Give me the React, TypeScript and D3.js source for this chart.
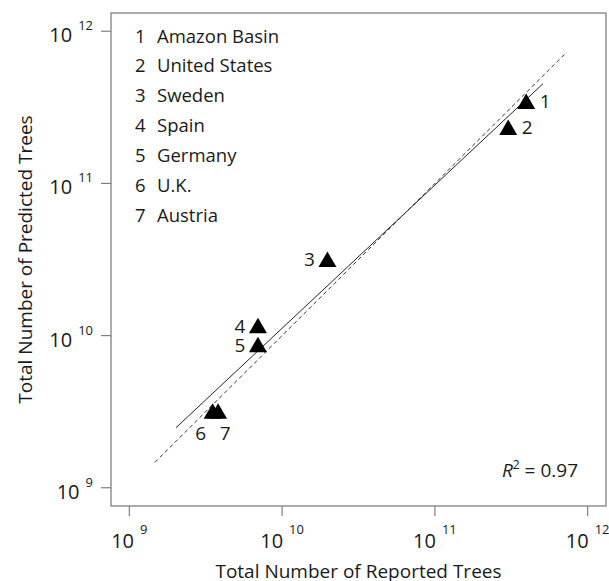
import * as d3 from "d3";
import { useEffect, useRef } from "react";

// reported vs predicted tree counts, by region
const REGIONS = ["Amazon Basin", "United States", "Sweden", "Spain", "Germany", "U.K.", "Austria"];
const REPORTED = [3.96e11, 3.02e11, 1.98e10, 6.95e9, 6.95e9, 3.51e9, 3.81e9];
const PREDICTED = [3.33e11, 2.25e11, 3.05e10, 1.12e10, 8.41e9, 3.07e9, 3.07e9];

const AXIS_LIMITS = [1e9, 1e12];
const TICKS = [1e9, 1e10, 1e11, 1e12];

// fitted regression line and the 1:1 line (end points)
const FIT_X = [2.02e9, 5.1e11];
const FIT_Y = [2.48e9, 4.52e11];
const ONE_TO_ONE = [1.47e9, 7.3e11];
const R_SQUARED = "0.97";

// where each point's number sits: r = right, l = left, bl / br = below
const LABEL_SIDE = ["r", "r", "l", "l", "l", "bl", "br"];

const FONT = "'Open Sans', sans-serif";
const INK = "#1a1a1a";
const FRAME = "#808080";

export default function App() {
  const ref = useRef<SVGSVGElement>(null);

  useEffect(() => {
    if (!ref.current) return;
    const svg = d3.select(ref.current);
    svg.selectAll("*").remove();

    const width = 609,
      height = 581;
    const box = { left: 111, right: 606, top: 13, bottom: 506 };

    // R style 4% padding on log axes
    const lo = Math.log10(AXIS_LIMITS[0]),
      hi = Math.log10(AXIS_LIMITS[1]);
    const pad = (hi - lo) * 0.04;
    const dom = [Math.pow(10, lo - pad), Math.pow(10, hi + pad)];

    const x = d3.scaleLog().domain(dom).range([box.left, box.right]);
    const y = d3.scaleLog().domain(dom).range([box.bottom, box.top]);

    svg.attr("width", width).attr("height", height);

    // frame
    svg
      .append("rect")
      .attr("x", box.left)
      .attr("y", box.top)
      .attr("width", box.right - box.left)
      .attr("height", box.bottom - box.top)
      .attr("fill", "none")
      .attr("stroke", FRAME)
      .attr("stroke-width", 1.3);

    // x ticks
    const xt = svg.append("g");
    xt.selectAll("line")
      .data(TICKS)
      .enter()
      .append("line")
      .attr("x1", (d) => x(d))
      .attr("x2", (d) => x(d))
      .attr("y1", box.bottom)
      .attr("y2", box.bottom + 10)
      .attr("stroke", FRAME)
      .attr("stroke-width", 1.2);
    const xl = xt
      .selectAll("text")
      .data(TICKS)
      .enter()
      .append("text")
      .attr("x", (d) => x(d))
      .attr("y", box.bottom + 42)
      .attr("text-anchor", "middle")
      .attr("font-family", FONT)
      .attr("font-size", 20)
      .attr("fill", INK);
    xl.append("tspan").text("10");
    xl.append("tspan")
      .attr("dx", 6)
      .attr("dy", -14)
      .attr("font-size", 13)
      .text((d) => String(Math.round(Math.log10(d))));

    // y ticks
    const yt = svg.append("g");
    yt.selectAll("line")
      .data(TICKS)
      .enter()
      .append("line")
      .attr("x1", box.left)
      .attr("x2", box.left - 10)
      .attr("y1", (d) => y(d))
      .attr("y2", (d) => y(d))
      .attr("stroke", FRAME)
      .attr("stroke-width", 1.2);
    const yl = yt
      .selectAll("text")
      .data(TICKS)
      .enter()
      .append("text")
      .attr("x", box.left - 18)
      .attr("y", (d) => y(d) + 11)
      .attr("text-anchor", "end")
      .attr("font-family", FONT)
      .attr("font-size", 20)
      .attr("fill", INK);
    yl.append("tspan").text("10");
    yl.append("tspan")
      .attr("dx", 6)
      .attr("dy", -12)
      .attr("font-size", 13)
      .text((d) => String(Math.round(Math.log10(d))));

    // axis titles
    svg
      .append("text")
      .attr("x", (box.left + box.right) / 2)
      .attr("y", 578)
      .attr("text-anchor", "middle")
      .attr("font-family", FONT)
      .attr("font-size", 19)
      .attr("fill", INK)
      .text("Total Number of Reported Trees");

    svg
      .append("text")
      .attr("transform", `translate(32, ${(box.top + box.bottom) / 2}) rotate(-90)`)
      .attr("text-anchor", "middle")
      .attr("font-family", FONT)
      .attr("font-size", 19)
      .attr("fill", INK)
      .text("Total Number of Predicted Trees");

    // lines
    const line = d3
      .line<[number, number]>()
      .x((d) => x(d[0]))
      .y((d) => y(d[1]));

    svg
      .append("path")
      .attr("d", line(ONE_TO_ONE.map((v) => [v, v] as [number, number])))
      .attr("fill", "none")
      .attr("stroke", "#333")
      .attr("stroke-width", 1)
      .attr("stroke-dasharray", "4,3");

    svg
      .append("path")
      .attr("d", line(FIT_X.map((v, i) => [v, FIT_Y[i]] as [number, number])))
      .attr("fill", "none")
      .attr("stroke", "#222")
      .attr("stroke-width", 1);

    // points
    const tri = d3.symbol().type(d3.symbolTriangle).size(140);
    const pts = REGIONS.map((name, i) => ({ name, i, rx: REPORTED[i], py: PREDICTED[i] }));

    svg
      .append("g")
      .selectAll("path")
      .data(pts)
      .enter()
      .append("path")
      .attr("d", tri)
      .attr("transform", (d) => `translate(${x(d.rx)}, ${y(d.py)})`)
      .attr("fill", "#000");

    const off: Record<string, [number, number]> = {
      r: [19, -2],
      l: [-18, -2],
      bl: [-12, 19.5],
      br: [7, 19.5],
    };
    svg
      .append("g")
      .selectAll("text")
      .data(pts)
      .enter()
      .append("text")
      .attr("x", (d) => x(d.rx) + off[LABEL_SIDE[d.i]][0])
      .attr("y", (d) => y(d.py) + off[LABEL_SIDE[d.i]][1] + 6.5)
      .attr("text-anchor", "middle")
      .attr("font-family", FONT)
      .attr("font-size", 19)
      .attr("fill", INK)
      .text((d) => String(d.i + 1));

    // legend
    const leg = svg
      .append("g")
      .selectAll("g")
      .data(REGIONS)
      .enter()
      .append("g")
      .attr("transform", (d, i) => `translate(0, ${42.5 + i * 29.9})`);
    leg
      .append("text")
      .attr("x", 135)
      .attr("font-family", FONT)
      .attr("font-size", 18.5)
      .attr("fill", INK)
      .text((d, i) => String(i + 1));
    leg
      .append("text")
      .attr("x", 157)
      .attr("font-family", FONT)
      .attr("font-size", 18.5)
      .attr("fill", INK)
      .text((d) => d);

    // R squared
    const r2 = svg
      .append("text")
      .attr("x", 578)
      .attr("y", 476.5)
      .attr("text-anchor", "end")
      .attr("font-family", FONT)
      .attr("font-size", 19)
      .attr("fill", INK);
    r2.append("tspan").attr("font-style", "italic").text("R");
    r2.append("tspan").attr("dy", -8).attr("font-size", 12).text("2");
    r2.append("tspan").attr("dy", 8).text(` = ${R_SQUARED}`);
  }, []);

  return (
    <svg
      ref={ref}
      style={{ position: "absolute", left: 0, top: 0, background: "#fff" }}
    />
  );
}
